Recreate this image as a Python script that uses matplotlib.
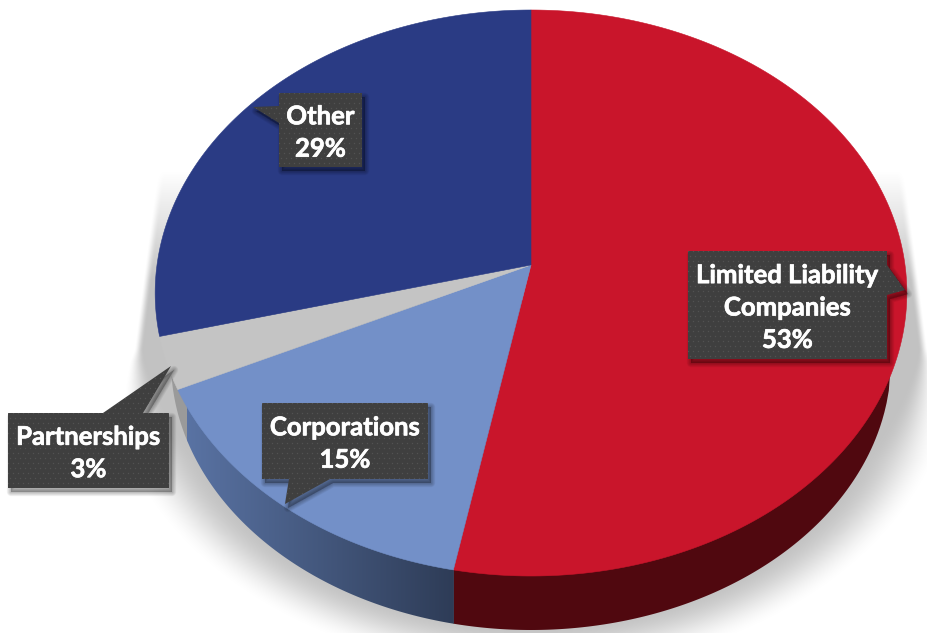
import numpy as np
import matplotlib
matplotlib.use("Agg")
import matplotlib.pyplot as plt
import matplotlib.patheffects as pe
from matplotlib.patches import Polygon

# Entity types, clockwise from twelve o'clock
categories = ["Limited Liability\nCompanies", "Corporations", "Partnerships", "Other"]
shares = [53, 15, 3, 29]
face_colors = ["#C9152B", "#7390C8", "#C4C4C4", "#2A3B84"]

# Callout boxes: left, top, right, bottom, tail tip, tail base
callouts = [
    dict(box=(688, 251, 887, 359), tip=(905, 290), base=[(887, 265), (887, 295)], side="r"),
    dict(box=(262, 403, 428, 479), tip=(285, 504), base=[(330, 479), (289, 479)], side="b"),
    dict(box=(8, 413, 169, 488), tip=(171, 366), base=[(103, 413), (143, 413)], side="t"),
    dict(box=(279, 93, 362, 167), tip=(253, 107), base=[(279, 123), (279, 106)], side="l"),
]

# Perspective disc geometry, in pixels
CX, CY = 531.0, 293.0
C_X, R_Y, APEX = 374.0, 283.0, 28.0
K = 2 * APEX / (2 * R_Y)
BASE_CY, BASE_RX, BASE_RY = 361.0, 360.0, 269.0


def project(fraction):
    """Place a fraction of the full turn on the tilted disc's rim."""
    t = 2 * np.pi * np.asarray(fraction, dtype=float)
    u, v = np.sin(t), np.cos(t)
    w = 1 + K * v
    return CX + C_X * u / w, CY - (R_Y * v + APEX) / w


def base_edge(x):
    return BASE_CY + BASE_RY * np.sqrt(np.clip(1 - ((x - CX) / BASE_RX) ** 2, 0, 1))


def wall_patch(x0, x1, color="none"):
    xs = np.linspace(x0, x1, 200)
    pts = np.column_stack([np.r_[xs, x1, x0], np.r_[base_edge(xs), 300, 300]])
    return Polygon(pts, closed=True, fc=color, ec="none", zorder=2)


fig = plt.figure(figsize=(9.27, 6.33), dpi=100)
ax = fig.add_axes([0, 0, 1, 1])

# Soft shadow cast beneath the disc: crisp at the sides, diffuse further down
yy, xx = np.mgrid[0:633, 0:927] + 0.5
dx = xx - CX
dy = yy - 361.0
side_rx = 375.0 - np.clip(-dy, 0, None) * 0.12
norm = np.sqrt((dx / side_rx) ** 2 + (np.clip(dy, 0, None) / 275.0) ** 2)
blur = 8 + 52 * np.clip((yy - 350) / 110.0, 0, 1)
shade = np.clip(0.5 - (norm - 1.05) * 320 / blur, 0, 1)
shade = shade * shade * (3 - 2 * shade)
shade = shade * np.clip((yy - 170) / 110.0, 0, 1) * 0.24
rgba = np.zeros((633, 927, 4))
rgba[..., 3] = shade
ax.imshow(rgba, extent=(0, 927, 633, 0), interpolation="bilinear", zorder=1, aspect="auto")

# Side wall: each slice's stretch of rim carries its own shade
edges = np.cumsum(shares) / 100.0
x_red, _ = project(edges[0])
x_corp, _ = project(edges[1])
x_corp += 9
ax.add_patch(wall_patch(CX - BASE_RX, x_corp + 1, "#9A9A9A"))
ax.add_patch(wall_patch(x_red, CX + BASE_RX, "#50080F"))
ramp = np.linspace(0, 1, 256)[None, :, None]
gradient = (1 - ramp) * np.array([0.35, 0.45, 0.64]) + ramp * np.array([0.18, 0.235, 0.34])
band = ax.imshow(gradient, extent=(x_corp, x_red + 0.5, 633, 300), aspect="auto", zorder=2)
clip = wall_patch(x_corp, x_red + 0.5)
ax.add_patch(clip)
band.set_clip_path(clip)

# Top face of the disc
bounds = np.concatenate([[0], edges])
for start, stop, color in zip(bounds[:-1], bounds[1:], face_colors):
    fr = np.linspace(start, stop, 240)
    px, py = project(fr)
    pts = np.column_stack([np.r_[CX, px], np.r_[CY - APEX, py]])
    ax.add_patch(Polygon(pts, closed=True, fc=color, ec=color, lw=0.4, zorder=3))

# Callouts
for name, share, c in zip(categories, shares, callouts):
    l, t, r, b = c["box"]
    a, e = c["base"]
    side = c["side"]
    if side == "r":
        outline = [(l, t), (r, t), a, c["tip"], e, (r, b), (l, b)]
    elif side == "b":
        outline = [(l, t), (r, t), (r, b), a, c["tip"], e, (l, b)]
    elif side == "t":
        outline = [(l, t), a, c["tip"], e, (r, t), (r, b), (l, b)]
    else:
        outline = [(l, t), (r, t), (r, b), (l, b), a, c["tip"], e]
    outline = np.array(outline, dtype=float)
    for grow in np.linspace(6, 0.5, 6):
        ax.add_patch(Polygon(outline + [3, 4], closed=True, fc="black", ec="black",
                             lw=grow, alpha=0.05, joinstyle="round", zorder=4))
    box = Polygon(outline, closed=True, fc="#3F3F3F", ec="none", zorder=5)
    ax.add_patch(box)
    # Fine dotted texture of the callout fill
    gx, gy = np.meshgrid(np.arange(l - 30, r + 30, 5.0), np.arange(t - 50, b + 30, 5.0))
    gx = gx + (np.arange(gx.shape[0])[:, None] % 2) * 2.5
    dots = ax.scatter(gx.ravel(), gy.ravel(), s=1.0, c="#525252", lw=0, zorder=5.5)
    dots.set_clip_path(box)
    ax.text((l + r) / 2, (t + b) / 2 + 2.5, f"{name}\n{share}%", color="white", ha="center",
            va="center", family="Lato", weight="bold", fontsize=18.5, linespacing=1.42, zorder=6,
            path_effects=[pe.withStroke(linewidth=0.5, foreground="white")])

ax.set_xlim(0, 927)
ax.set_ylim(633, 0)
ax.axis("off")
fig.savefig("out.png", dpi=100)
